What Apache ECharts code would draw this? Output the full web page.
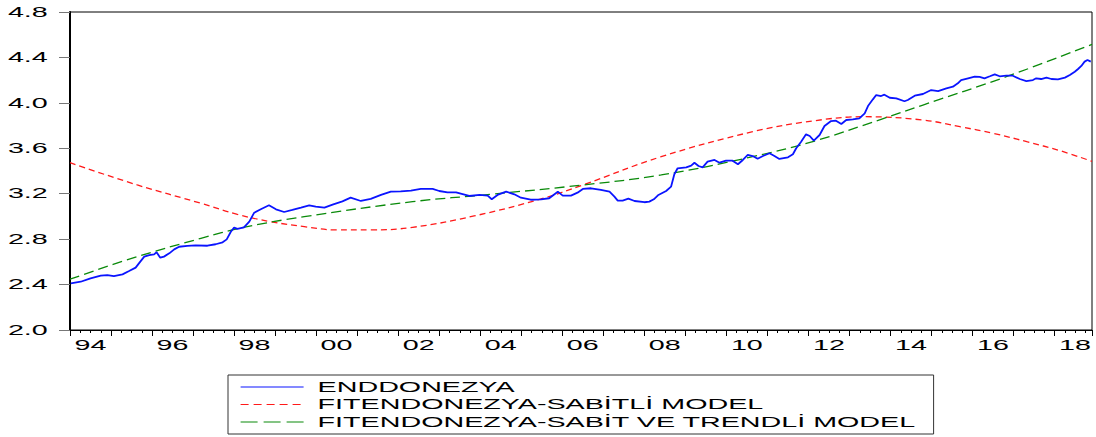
<!DOCTYPE html>
<html>
<head>
<meta charset="utf-8">
<script src="https://cdn.jsdelivr.net/npm/echarts@6/dist/echarts.min.js"></script>
<style>
  html, body { margin: 0; padding: 0; background: #fff; }
  #chart { width: 1096px; height: 437px; }
</style>
</head>
<body>
<div id="chart"></div>
<script>
// Series names shown in the legend
const seriesNames = ['ENDDONEZYA', 'FITENDONEZYA-SABİTLİ MODEL', 'FITENDONEZYA-SABİT VE TRENDLİ MODEL'];

// Actual series (decimal year, value)
const actualDates = [
  1994.02, 1994.26, 1994.50, 1994.75, 1994.91, 1995.07, 1995.28, 1995.44, 1995.60, 1995.68,
  1995.81, 1995.93, 1996.05, 1996.11, 1996.20, 1996.29, 1996.42, 1996.54, 1996.66, 1996.86,
  1997.06, 1997.35, 1997.55, 1997.72, 1997.82, 1997.92, 1998.00, 1998.08, 1998.24, 1998.37,
  1998.49, 1998.65, 1998.85, 1999.02, 1999.22, 1999.42, 1999.63, 1999.83, 1999.99, 2000.20,
  2000.40, 2000.64, 2000.84, 2001.09, 2001.33, 2001.58, 2001.82, 2002.06, 2002.31, 2002.55,
  2002.84, 2003.00, 2003.20, 2003.41, 2003.57, 2003.73, 2003.98, 2004.18, 2004.28, 2004.42,
  2004.63, 2004.83, 2004.99, 2005.23, 2005.48, 2005.68, 2005.89, 2006.01, 2006.21, 2006.37,
  2006.50, 2006.70, 2006.94, 2007.15, 2007.27, 2007.35, 2007.47, 2007.61, 2007.76, 2008.00,
  2008.12, 2008.23, 2008.33, 2008.53, 2008.65, 2008.73, 2008.81, 2009.02, 2009.14, 2009.22,
  2009.32, 2009.42, 2009.54, 2009.71, 2009.83, 2009.99, 2010.15, 2010.28, 2010.40, 2010.52,
  2010.64, 2010.76, 2010.89, 2011.05, 2011.17, 2011.29, 2011.50, 2011.62, 2011.70, 2011.82,
  2011.94, 2012.03, 2012.13, 2012.27, 2012.39, 2012.55, 2012.67, 2012.80, 2012.92, 2013.08,
  2013.24, 2013.37, 2013.45, 2013.57, 2013.65, 2013.77, 2013.85, 2013.98, 2014.14, 2014.34,
  2014.42, 2014.59, 2014.79, 2014.99, 2015.16, 2015.36, 2015.52, 2015.64, 2015.72, 2015.89,
  2016.05, 2016.17, 2016.29, 2016.42, 2016.54, 2016.66, 2016.82, 2016.98, 2017.15, 2017.31,
  2017.47, 2017.55, 2017.67, 2017.80, 2017.92, 2018.08, 2018.25, 2018.37, 2018.49, 2018.57,
  2018.65, 2018.73, 2018.80, 2018.88
];
const actualValues = [
  2.411, 2.425, 2.455, 2.478, 2.484, 2.475, 2.490, 2.519, 2.549, 2.587,
  2.646, 2.660, 2.666, 2.684, 2.637, 2.646, 2.675, 2.710, 2.733, 2.740,
  2.746, 2.742, 2.755, 2.772, 2.798, 2.865, 2.901, 2.890, 2.904, 2.954,
  3.033, 3.063, 3.098, 3.063, 3.039, 3.057, 3.077, 3.098, 3.086, 3.077,
  3.104, 3.133, 3.165, 3.136, 3.154, 3.189, 3.218, 3.221, 3.227, 3.242,
  3.242, 3.224, 3.212, 3.212, 3.197, 3.180, 3.189, 3.183, 3.151, 3.189,
  3.218, 3.195, 3.165, 3.147, 3.151, 3.160, 3.218, 3.183, 3.183, 3.209,
  3.242, 3.248, 3.233, 3.218, 3.174, 3.139, 3.139, 3.156, 3.136, 3.125,
  3.130, 3.151, 3.186, 3.224, 3.262, 3.371, 3.424, 3.432, 3.447, 3.473,
  3.444, 3.432, 3.482, 3.497, 3.473, 3.491, 3.491, 3.459, 3.497, 3.541,
  3.532, 3.508, 3.532, 3.556, 3.532, 3.506, 3.521, 3.547, 3.600, 3.658,
  3.723, 3.708, 3.667, 3.717, 3.796, 3.840, 3.843, 3.814, 3.849, 3.855,
  3.864, 3.908, 3.972, 4.031, 4.069, 4.060, 4.072, 4.045, 4.040, 4.014,
  4.025, 4.063, 4.078, 4.113, 4.104, 4.128, 4.142, 4.172, 4.201, 4.216,
  4.230, 4.228, 4.216, 4.234, 4.251, 4.234, 4.239, 4.239, 4.210, 4.192,
  4.201, 4.216, 4.210, 4.222, 4.210, 4.207, 4.222, 4.245, 4.274, 4.298,
  4.325, 4.363, 4.377, 4.363
];

// Fitted values, constant-only model
const constFitDates = [
  1994.00, 1995.64, 1997.19, 1998.08, 1998.89, 1999.71, 2000.52, 2001.33, 2002.35, 2003.85,
  2005.48, 2006.50, 2008.41, 2010.64, 2012.15, 2013.37, 2014.79, 2015.69, 2016.50, 2017.32,
  2018.13, 2018.91
];
const constFitValues = [
  3.473, 3.277, 3.116, 3.018, 2.954, 2.910, 2.881, 2.881, 2.904, 3.004,
  3.154, 3.277, 3.526, 3.746, 3.843, 3.878, 3.849, 3.790, 3.732, 3.658,
  3.579, 3.485
];

// Fitted values, constant and trend model
const trendFitDates = [
  1994.00, 1995.56, 1997.19, 1998.20, 1999.71, 2002.35, 2004.26, 2006.50, 2008.41, 2010.64,
  2012.15, 2013.77, 2014.79, 2016.82, 2018.91
];
const trendFitValues = [
  2.447, 2.637, 2.807, 2.901, 2.998, 3.130, 3.195, 3.277, 3.365, 3.526,
  3.664, 3.855, 3.981, 4.230, 4.515
];

// Category labels on the time axis (two-digit years)
const labelYears = [1994, 1996, 1998, 2000, 2002, 2004, 2006, 2008, 2010, 2012, 2014, 2016, 2018];
const labelTexts = ['94', '96', '98', '00', '02', '04', '06', '08', '10', '12', '14', '16', '18'];

const axisStart = 1994;
const axisEnd = 2018.91;
const FONT = 'Liberation Sans';
const FONT_SIZE = 14;
const STRETCH = 2.05; // horizontal stretch of all text

const COLORS = ['#0a14ff', '#ff1a1a', '#0a8a0a'];

const pairs = (xs, ys) => xs.map((x, i) => [x, ys[i]]);

// Legend box geometry: width fixed, right padding fills to the frame edge
const measure = document.createElement('canvas').getContext('2d');
measure.font = FONT_SIZE + 'px "' + FONT + '"';
const textW = Math.max.apply(null, seriesNames.map(n => measure.measureText(n).width));
const legendLeft = 228, legendRight = 935;
const legendIconW = 63, legendTextPad = 9;
const legendPadRight = Math.max(4, (legendRight - legendLeft) - 12 - legendIconW - 5 - legendTextPad - textW - 2);

const chart = echarts.init(document.getElementById('chart'), null, { renderer: 'svg' });

const lineBase = { type: 'line', symbol: 'none', showSymbol: false, silent: true, animation: false,
                   emphasis: { disabled: true } };

chart.setOption({
  animation: false,
  backgroundColor: '#fff',
  grid: { left: 70, top: 12, right: 4, bottom: 107, show: true, borderColor: '#000', borderWidth: 1 },
  xAxis: {
    type: 'value', min: axisStart, max: axisEnd, interval: 1,
    axisLine: { show: true, onZero: false, lineStyle: { color: '#000', width: 1 } },
    axisTick: { show: true, length: 6, lineStyle: { color: '#000', width: 1 } },
    minorTick: { show: true, splitNumber: 4, length: 3, lineStyle: { color: '#000', width: 1 } },
    axisLabel: {
      customValues: labelYears.map(y => y + 0.5),
      formatter: v => labelTexts[labelYears.indexOf(Math.floor(v))],
      margin: 8, color: '#000', fontFamily: FONT, fontSize: FONT_SIZE
    },
    splitLine: { show: false }
  },
  yAxis: {
    type: 'value', min: 2.0, max: 4.8, interval: 0.4,
    axisLine: { show: true, onZero: false, lineStyle: { color: '#000', width: 2 } },
    axisTick: { show: true, length: 11, lineStyle: { color: '#777', width: 1 } },
    axisLabel: { formatter: v => v.toFixed(1), margin: 22, color: '#000', fontFamily: FONT, fontSize: FONT_SIZE },
    splitLine: { show: false }
  },
  legend: {
    orient: 'vertical', left: legendLeft, top: 375,
    padding: [5, legendPadRight, 5, 12],
    itemWidth: legendIconW, itemHeight: 14, itemGap: 3.5,
    borderColor: '#333', borderWidth: 1,
    selectedMode: false,
    itemStyle: { opacity: 0 },
    textStyle: { color: '#000', fontFamily: FONT, fontSize: FONT_SIZE, lineHeight: 14, padding: [0, 0, 0, legendTextPad] },
    data: [
      { name: seriesNames[0], lineStyle: { color: COLORS[0], width: 1.2, type: 'solid' } },
      { name: seriesNames[1], lineStyle: { color: COLORS[1], width: 1.2, type: [8, 5] } },
      { name: seriesNames[2], lineStyle: { color: COLORS[2], width: 1.2, type: [17, 6] } }
    ]
  },
  series: [
    Object.assign({}, lineBase, {
      name: seriesNames[0], data: pairs(actualDates, actualValues), z: 3,
      lineStyle: { color: COLORS[0], width: 1.8 }, itemStyle: { color: COLORS[0] }
    }),
    Object.assign({}, lineBase, {
      name: seriesNames[1], data: pairs(constFitDates, constFitValues), smooth: 0.4, z: 2,
      lineStyle: { color: COLORS[1], width: 1.3, type: [6, 4] }, itemStyle: { color: COLORS[1] }
    }),
    Object.assign({}, lineBase, {
      name: seriesNames[2], data: pairs(trendFitDates, trendFitValues), smooth: 0.4, z: 2,
      lineStyle: { color: COLORS[2], width: 1.3, type: [10, 5] }, itemStyle: { color: COLORS[2] }
    })
  ]
});

// Widen every text label horizontally around its anchor point
let stretched = false;
function stretchText() {
  if (stretched) return;
  const svg = document.querySelector('#chart svg');
  if (!svg) return;
  stretched = true;
  const NS = 'http://www.w3.org/2000/svg';
  svg.querySelectorAll('text').forEach(t => {
    const g = document.createElementNS(NS, 'g');
    t.parentNode.insertBefore(g, t);
    g.appendChild(t);
    const bb = g.getBBox();
    const anchor = t.getAttribute('text-anchor') || getComputedStyle(t).textAnchor || 'start';
    const ax = anchor === 'end' ? bb.x + bb.width : (anchor === 'middle' ? bb.x + bb.width / 2 : bb.x);
    g.setAttribute('transform', 'translate(' + ax + ',0) scale(' + STRETCH + ',1) translate(' + (-ax) + ',0)');
  });
}
chart.on('finished', stretchText);
setTimeout(stretchText, 300);
</script>
</body>
</html>
